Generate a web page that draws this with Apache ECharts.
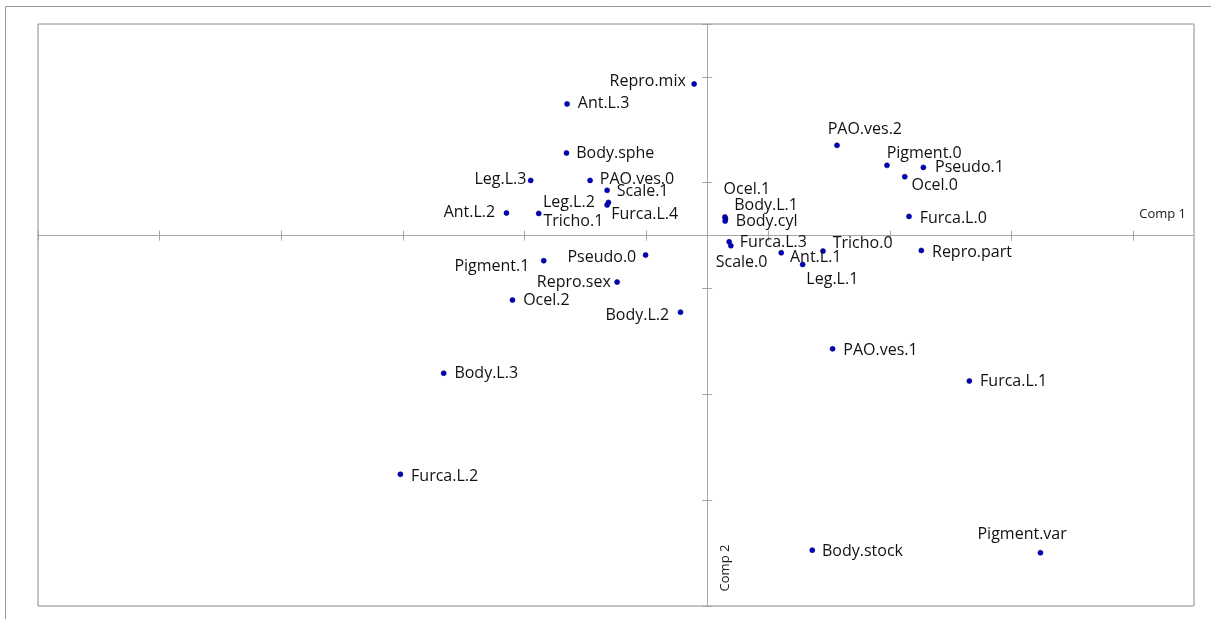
<!DOCTYPE html>
<html><head><meta charset="utf-8">
<script src="https://cdn.jsdelivr.net/npm/echarts@6/dist/echarts.min.js"></script>
<style>html,body{margin:0;padding:0;background:#fff}#c{width:1211px;height:619px}</style>
</head><body><div id="c"></div>
<script>
// ---- data ----
const names = ['Repro.mix','Ant.L.3','Body.sphe','Leg.L.3','PAO.ves.0','Scale.1','Leg.L.2','Furca.L.4','Ant.L.2','Tricho.1',
  'PAO.ves.2','Pigment.0','Pseudo.1','Ocel.0','Furca.L.0','Ocel.1','Body.L.1','Body.cyl','Furca.L.3','Scale.0',
  'Ant.L.1','Leg.L.1','Tricho.0','Repro.part','Pigment.1','Pseudo.0','Repro.sex','Ocel.2','Body.L.2','Body.L.3',
  'Furca.L.2','PAO.ves.1','Furca.L.1','Body.stock','Pigment.var'];
const comp1 = [-0.108,-1.152,-1.157,-1.451,-0.963,-0.823,-0.823,-0.812,-1.650,-1.385,
  1.066,1.477,1.776,1.623,1.658,0.145,0.150,0.147,0.180,0.194,
  0.608,0.784,0.951,1.759,-1.344,-0.507,-0.741,-1.601,-0.220,-2.166,
  -2.522,1.030,2.154,0.863,2.738];
const comp2 = [1.434,1.245,0.781,0.522,0.522,0.428,0.290,0.314,0.214,0.210,
  0.853,0.664,0.645,0.557,0.182,0.176,0.160,0.138,-0.058,-0.095,
  -0.162,-0.272,-0.146,-0.140,-0.237,-0.184,-0.439,-0.609,-0.723,-1.300,
  -2.255,-1.070,-1.373,-2.972,-2.997];
const axisTitles = ['Comp 1','Comp 2'];

// ---- label placement (style only): [align, dx from dot centre, dy of text centre] ----
const labelPlace = {
  'Repro.mix':['right',-8,-2],'Ant.L.3':['left',11,0],'Body.sphe':['left',10,1],'Leg.L.3':['right',-4,-1],
  'PAO.ves.0':['left',10,-1],'Scale.1':['left',10,1],'Leg.L.2':['right',-12,-2],'Furca.L.4':['left',3,12],
  'Ant.L.2':['right',-11,0],'Tricho.1':['left',5,8],'PAO.ves.2':['left',-9,-16],'Pigment.0':['left',0,-12],
  'Pseudo.1':['left',12,0],'Ocel.0':['left',7,9],'Furca.L.0':['left',11,2],'Ocel.1':['left',-1,-27],
  'Body.L.1':['left',9,-13],'Body.cyl':['left',11,1],'Furca.L.3':['left',11,1],'Scale.0':['center',11,17],
  'Ant.L.1':['left',9,5],'Leg.L.1':['left',4,15],'Tricho.0':['left',10,-7],'Repro.part':['left',11,2],
  'Pigment.1':['right',-14,6],'Pseudo.0':['right',-9,3],'Repro.sex':['right',-6,1],'Ocel.2':['left',11,1],
  'Body.L.2':['right',-11,4],'Body.L.3':['left',11,1],'Furca.L.2':['left',11,2],'PAO.ves.1':['left',11,2],
  'Furca.L.1':['left',11,1],'Body.stock':['left',10,2],'Pigment.var':['center',-18,-18]
};

const seriesData = names.map((n, i) => {
  const p = labelPlace[n];
  return {
    name: n, value: [comp1[i], comp2[i]],
    label: { position: [2.5 + p[1], 2.5 + p[2]], align: p[0], verticalAlign: 'middle' }
  };
});

const axisLineColor = '#a6a6a6';
function xAx() {
  return { type: 'value', min: -5.5, max: 4, interval: 1,
    axisLine: { show: true, onZero: true, lineStyle: { color: axisLineColor, width: 1 } },
    axisTick: { show: true, length: 5, lineStyle: { color: axisLineColor } },
    axisLabel: { show: false }, splitLine: { show: false } };
}
function yAx() {
  return { type: 'value', min: -3.5, max: 2, interval: 1,
    axisLine: { show: true, onZero: true, lineStyle: { color: axisLineColor, width: 1 } },
    axisTick: { show: true, length: 5, lineStyle: { color: axisLineColor } },
    axisLabel: { show: false }, splitLine: { show: false } };
}

const chart = echarts.init(document.getElementById('c'), null, { renderer: 'canvas' });
chart.setOption({
  animation: false,
  backgroundColor: '#fff',
  grid: { left: 38, top: 24, right: 17, bottom: 13, show: true, borderColor: '#8a8a8a', borderWidth: 1, backgroundColor: 'transparent' },
  xAxis: [Object.assign(xAx(), { position: 'bottom' }), Object.assign(xAx(), { position: 'top' })],
  yAxis: [Object.assign(yAx(), { position: 'left' }), Object.assign(yAx(), { position: 'right' })],
  graphic: [
    { type: 'line', shape: { x1: 5.5, y1: 6.5, x2: 1211, y2: 6.5 }, style: { stroke: '#9a9a9a', lineWidth: 1 }, silent: true },
    { type: 'line', shape: { x1: 5.5, y1: 6.5, x2: 5.5, y2: 619 }, style: { stroke: '#9a9a9a', lineWidth: 1 }, silent: true },
    { type: 'line', shape: { x1: 1194, y1: 24, x2: 1194, y2: 606 }, style: { stroke: '#c4c4c4', lineWidth: 2 }, silent: true, z: 10 },
    { type: 'text', right: 25, top: 208, style: { text: axisTitles[0], fontFamily: 'Open Sans', fontSize: 13, fill: '#1a1a1a' }, silent: true },
    { type: 'text', x: 725, y: 568, rotation: Math.PI / 2,
      style: { text: axisTitles[1], fontFamily: 'Open Sans', fontSize: 13, fill: '#1a1a1a', align: 'center', verticalAlign: 'middle' }, silent: true }
  ],
  series: [{
    type: 'scatter', xAxisIndex: 0, yAxisIndex: 0,
    symbol: 'circle', symbolSize: 5,
    itemStyle: { color: '#0000cc', borderColor: '#00005a', borderWidth: 0.6, opacity: 1 },
    label: { show: true, formatter: '{b}', fontFamily: 'Open Sans', fontSize: 16, color: '#111' },
    labelLayout: { hideOverlap: false },
    emphasis: { disabled: true },
    data: seriesData
  }]
});
</script>
</body></html>
